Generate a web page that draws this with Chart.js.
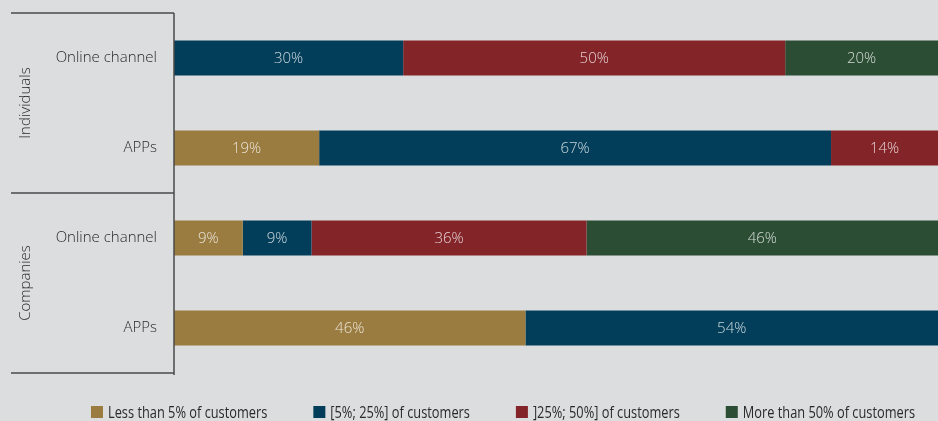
<!DOCTYPE html>
<html>
<head>
<meta charset="utf-8">
<script src="https://cdn.jsdelivr.net/npm/chart.js@4.4.1/dist/chart.umd.min.js"></script>
<style>
  html, body { margin: 0; padding: 0; background: #dcdddf; }
  #wrap { width: 938px; height: 421px; position: relative; }
</style>
</head>
<body>
<div id="wrap"><canvas id="chart"></canvas></div>
<script>
// rows of the chart, top to bottom
const categories = ['Online channel', 'APPs', 'Online channel', 'APPs'];
const groups = ['Individuals', 'Companies'];
const groupSize = 2;

// share of customers using each channel
const seriesLabels = [
  'Less than 5% of customers',
  '[5%; 25%] of customers',
  ']25%; 50%] of customers',
  'More than 50% of customers',
];
const lessThan5 = [null, 19, 9, 46];
const from5to25 = [30, 67, 9, 54];
const from25to50 = [50, 14, 36, null];
const moreThan50 = [20, null, 46, null];

const COLORS = ['#9b7c40', '#023e5a', '#832429', '#2b4d34'];
const TEXT = '#2a2a2a';
const LINE = '#4a4a4a';

const seriesValues = [lessThan5, from5to25, from25to50, moreThan50];

// percentage labels inside each segment
const segmentLabels = {
  id: 'segmentLabels',
  afterDatasetsDraw(chart) {
    const ctx = chart.ctx;
    ctx.save();
    ctx.font = '300 15px "Open Sans"';
    ctx.fillStyle = 'rgba(255,255,255,0.78)';
    ctx.textAlign = 'center';
    ctx.textBaseline = 'middle';
    chart.data.datasets.forEach((ds, i) => {
      chart.getDatasetMeta(i).data.forEach((bar, j) => {
        const v = ds.data[j];
        if (v == null) return;
        const p = bar.getCenterPoint();
        ctx.fillText(v + '%', p.x, p.y + 1);
      });
    });
    ctx.restore();
  },
};

// row names, group brackets on the left and the legend underneath
const groupFrame = {
  id: 'groupFrame',
  afterDraw(chart) {
    const ctx = chart.ctx;
    const area = chart.chartArea;
    const yScale = chart.scales.y;
    const step = (area.bottom - area.top) / categories.length;
    ctx.save();
    ctx.strokeStyle = LINE;
    ctx.lineWidth = 1.5;
    ctx.beginPath();
    for (let g = 0; g <= groups.length; g++) {
      const y = area.top + g * groupSize * step;
      ctx.moveTo(11, y);
      ctx.lineTo(area.left, y);
    }
    ctx.moveTo(area.left, area.top);
    ctx.lineTo(area.left, area.bottom + 2);
    ctx.stroke();

    ctx.fillStyle = TEXT;
    ctx.font = '300 15px "Open Sans"';
    ctx.textBaseline = 'middle';
    ctx.textAlign = 'right';
    categories.forEach((name, i) => {
      ctx.fillText(name, area.left - 17, yScale.getPixelForTick(i));
    });

    ctx.textAlign = 'center';
    groups.forEach((name, g) => {
      const cy = area.top + (g + 0.5) * groupSize * step;
      ctx.save();
      ctx.translate(26, cy);
      ctx.rotate(-Math.PI / 2);
      ctx.fillText(name, 0, 0);
      ctx.restore();
    });

    // legend, narrow lettering
    ctx.font = '16px "Open Sans"';
    ctx.textAlign = 'left';
    const squeeze = 0.8;
    const box = 12, gapText = 5, gapItem = 46;
    const items = chart.data.datasets.map(ds => ({
      label: ds.label, color: ds.backgroundColor, w: ctx.measureText(ds.label).width * squeeze,
    }));
    const total = items.reduce((s, it) => s + box + gapText + it.w, 0) + gapItem * (items.length - 1);
    let x = (chart.width - total) / 2 + 34;
    const ly = 412;
    items.forEach(it => {
      ctx.fillStyle = it.color;
      ctx.fillRect(x, ly - 6, box, box);
      ctx.save();
      ctx.translate(x + box + gapText, ly + 1);
      ctx.scale(squeeze, 1);
      ctx.fillStyle = TEXT;
      ctx.fillText(it.label, 0, 0);
      ctx.restore();
      x += box + gapText + it.w + gapItem;
    });
    ctx.restore();
  },
};

new Chart(document.getElementById('chart'), {
  type: 'bar',
  data: {
    labels: categories,
    datasets: seriesLabels.map((label, i) => ({
      label,
      data: seriesValues[i],
      backgroundColor: COLORS[i],
      borderWidth: 0,
      categoryPercentage: 1,
      barPercentage: 0.39,
    })),
  },
  options: {
    indexAxis: 'y',
    responsive: true,
    maintainAspectRatio: false,
    animation: false,
    layout: { padding: { top: 13, bottom: 48, left: 0, right: 0 } },
    plugins: {
      legend: { display: false },
      tooltip: { enabled: false },
    },
    scales: {
      x: {
        stacked: true,
        min: 0,
        max: 100,
        display: false,
      },
      y: {
        stacked: true,
        grid: { display: false, drawTicks: false },
        border: { display: false },
        ticks: { display: false },
        afterFit(scale) { scale.width = 174; },
      },
    },
  },
  plugins: [segmentLabels, groupFrame],
});
</script>
</body>
</html>
